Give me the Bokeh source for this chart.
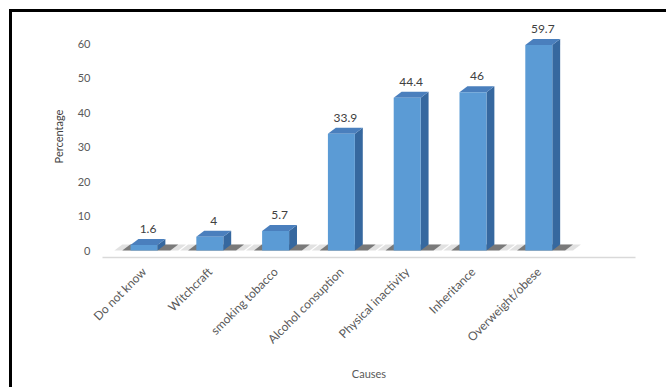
import numpy as np
from bokeh.plotting import figure
from bokeh.models import Range1d, FixedTicker, ColumnDataSource
from bokeh.embed import file_html
from bokeh.resources import INLINE
from bokeh.core.properties import value

# ---- data ----
categories = ["Do not know", "Witchcraft", "smoking tobacco", "Alcohol consuption",
              "Physical inactivity", "Inheritance", "Overweight/obese"]
values = [1.6, 4, 5.7, 33.9, 44.4, 46, 59.7]
value_labels = ["1.6", "4", "5.7", "33.9", "44.4", "46", "59.7"]
y_ticks = [0, 10, 20, 30, 40, 50, 60]
x_title = "Causes"
y_title = "Percentage"

# ---- geometry / style ----
FONT = "Lato"
W = 0.41      # front face width (category units)
DX = 0.12     # depth offset x
DY = 1.75     # depth offset y
FRONT = "#5b9bd5"
TOP = "#4a7fbd"
SIDE = "#36689f"

xs = np.arange(len(categories), dtype=float)
vals = np.array(values, dtype=float)

p = figure(width=657, height=378,
           x_range=Range1d(-0.631, 7.47), y_range=Range1d(-2.03, 68.3),
           output_backend="svg", toolbar_location=None,
           min_border_left=90, min_border_right=34, min_border_top=3, min_border_bottom=133,
           styles={"margin-left": "9px", "margin-top": "9px",
                   "border-left": "3px solid black", "border-top": "3px solid black"})
p.outline_line_color = None
p.xgrid.visible = False
p.ygrid.visible = False
p.background_fill_color = "white"
p.border_fill_color = "white"

# shadows at bar bases
sh_y = [[0, 0, DY, DY] for _ in xs]
sh_x = [[x - 0.45, x + 0.52, x + 0.52 + DX, x - 0.45 + DX] for x in xs]
p.patches(sh_x, sh_y, fill_color="#9a9a9a", fill_alpha=0.3, line_color=None)
sh2_x = [[x - 0.33, x + 0.40, x + 0.40 + DX, x - 0.33 + DX] for x in xs]
p.patches(sh2_x, sh_y, fill_color="#333333", fill_alpha=0.6, line_color=None)

# side faces
side_x = [[x + W / 2, x + W / 2 + DX, x + W / 2 + DX, x + W / 2] for x in xs]
side_y = [[0, DY, v + DY, v] for v in vals]
p.patches(side_x, side_y, fill_color=SIDE, line_color=None)

# top faces
top_x = [[x - W / 2, x + W / 2, x + W / 2 + DX, x - W / 2 + DX] for x in xs]
top_y = [[v, v, v + DY, v + DY] for v in vals]
p.patches(top_x, top_y, fill_color=TOP, line_color=None)

# front faces
src = ColumnDataSource(dict(x=xs, top=vals, lab=value_labels, ly=vals + DY))
p.vbar(x="x", top="top", bottom=0, width=W, source=src, fill_color=FRONT, line_color=None)

# value labels
p.text(x="x", y="ly", text="lab", source=src, text_align="center", text_baseline="bottom",
       x_offset=4, y_offset=-6, text_font=value(FONT), text_font_size="12px",
       text_color="#404040")

# axes
xa = p.xaxis[0]
xa.ticker = FixedTicker(ticks=list(xs))
xa.major_label_overrides = {int(i): c for i, c in enumerate(categories)}
xa.major_label_orientation = np.pi / 4
xa.major_tick_line_color = None
xa.minor_tick_line_color = None
xa.axis_line_color = "#d9d9d9"
xa.axis_line_width = 1.5
xa.major_label_text_font = FONT
xa.major_label_text_font_size = "12px"
xa.major_label_text_color = "#595959"
xa.major_label_standoff = 6
xa.axis_label = x_title
xa.axis_label_text_font = FONT
xa.axis_label_text_font_size = "11px"
xa.axis_label_text_font_style = "normal"
xa.axis_label_text_color = "#595959"
xa.axis_label_standoff = 12

ya = p.yaxis[0]
ya.ticker = FixedTicker(ticks=y_ticks)
ya.axis_line_color = None
ya.major_tick_line_color = None
ya.minor_tick_line_color = None
ya.major_label_text_font = FONT
ya.major_label_text_font_size = "11px"
ya.major_label_text_color = "#595959"
ya.major_label_standoff = 6
ya.axis_label = y_title
ya.axis_label_text_font = FONT
ya.axis_label_text_font_size = "11px"
ya.axis_label_text_font_style = "normal"
ya.axis_label_text_color = "#404040"
ya.axis_label_standoff = 10

open("out.html", "w").write(file_html(p, INLINE))
